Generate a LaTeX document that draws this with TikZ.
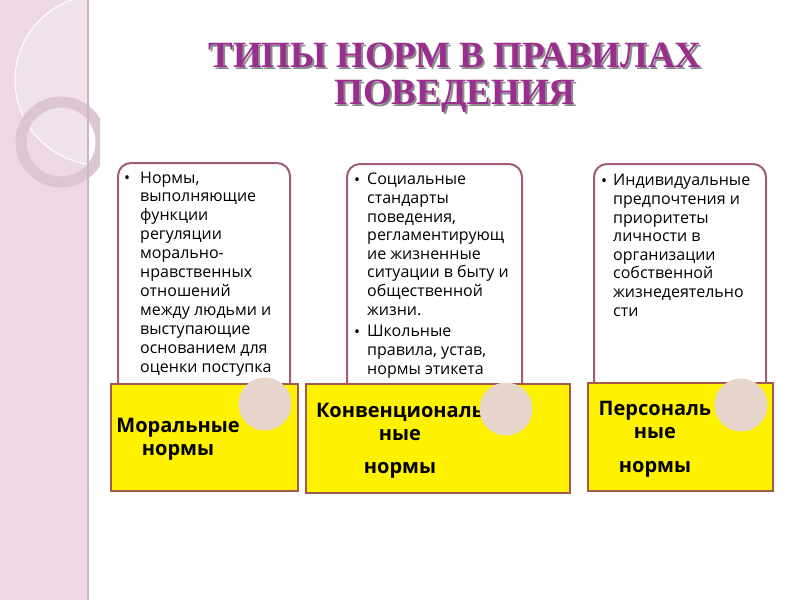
\documentclass[tikz,border=0pt]{standalone}
\usepackage{fontspec}
\setmainfont{Liberation Serif}
\setsansfont{Open Sans}
\usetikzlibrary{positioning}

\definecolor{stripcol}{HTML}{ECD9E5}
\definecolor{ringcol}{HTML}{DCC6D3}
\definecolor{titlecol}{HTML}{9A2E8E}
\definecolor{framecol}{HTML}{A05C78}
\definecolor{rustcol}{HTML}{A35A48}
\definecolor{spotcol}{HTML}{E6D6CC}

\begin{document}
\begin{tikzpicture}[x=1pt,y=-1pt,
    descbox/.style={draw=framecol,line width=2pt,rounded corners=13pt,fill=white,
      minimum height=240pt,anchor=north west},
    typebox/.style={draw=rustcol,line width=2pt,fill=yellow,anchor=north west},
    spot/.style={circle,fill=spotcol,minimum size=53pt,inner sep=0pt},
    desc/.style={font=\sffamily\fontsize{16}{18.6}\selectfont,align=left,inner sep=0pt,anchor=base west},
    typename/.style={font=\sffamily\bfseries\fontsize{20}{23}\selectfont,align=center,inner sep=0pt,anchor=base},
    title/.style={font=\bfseries\fontsize{37}{37}\selectfont,align=center,inner sep=0pt,anchor=base}]

  \useasboundingbox (0,0) rectangle (800,600);

  % side strip
  \fill[stripcol] (0,0) rectangle (88,600);
  \begin{scope}
    \clip (0,0) rectangle (88,600);
    \fill[white,opacity=.25] (100,80) circle (85);
    \draw[white,line width=1pt] (100,80) circle (85);
  \end{scope}
  \begin{scope}
    \clip (0,0) rectangle (100,600);
    \draw[ringcol,line width=11pt] (61,142) circle (40);
  \end{scope}
  \draw[ringcol!80!gray,line width=2pt] (88,0) -- (88,600);

  % title (base = last line)
  \node[title,black!45] (shade) at (457,106) {ТИПЫ НОРМ В ПРАВИЛАХ\\ПОВЕДЕНИЯ};
  \node[title,titlecol] (title) at (455,104) {ТИПЫ НОРМ В ПРАВИЛАХ\\ПОВЕДЕНИЯ};

  % descriptions
  \node[descbox,minimum width=172pt] (moraldesc) at (117,162) {};
  \node[descbox,minimum width=175pt] (convdesc) at (346,163) {};
  \node[descbox,minimum width=172pt] (persdesc) at (593,163) {};

  \node[desc] (moralbul) at (124,183) {•};
  \node[desc,font=\sffamily\fontsize{16}{18.9}\selectfont] (moraltext) at (140,372) {Нормы,\\выполняющие\\функции\\регуляции\\морально-\\нравственных\\отношений\\между людьми и\\выступающие\\основанием для\\оценки поступка};

  \node[desc] (convbul) at (354,185) {•};
  \node[desc] (convtext) at (367,315) {Социальные\\стандарты\\поведения,\\регламентирующ\\ие жизненные\\ситуации в быту и\\общественной\\жизни.};
  \node[desc] (schoolbul) at (354,337) {•};
  \node[desc] (schooltext) at (367,374) {Школьные\\правила, устав,\\нормы этикета};

  \node[desc] (persbul) at (601,186) {•};
  \node[desc] (perstext) at (613,316) {Индивидуальные\\предпочтения и\\приоритеты\\личности в\\организации\\собственной\\жизнедеятельно\\сти};

  % types
  \node[typebox,minimum width=187pt,minimum height=107pt] (moral) at (110,383) {};
  \node[typebox,minimum width=264pt,minimum height=109pt] (conv) at (305,383) {};
  \node[typebox,minimum width=185pt,minimum height=108pt] (pers) at (587,382) {};

  \node[typename] (moralname) at (178,455) {Моральные\\нормы};
  \node[typename] (convname) at (400,473) {Конвенциональ\\ные\\[10pt]нормы};
  \node[typename] (persname) at (655,472) {Персональ\\ные\\[11pt]нормы};

  \node[spot] (moralspot) at (265,404) {};
  \node[spot] (convspot) at (506,409) {};
  \node[spot] (persspot) at (741,405) {};

\end{tikzpicture}
\end{document}
